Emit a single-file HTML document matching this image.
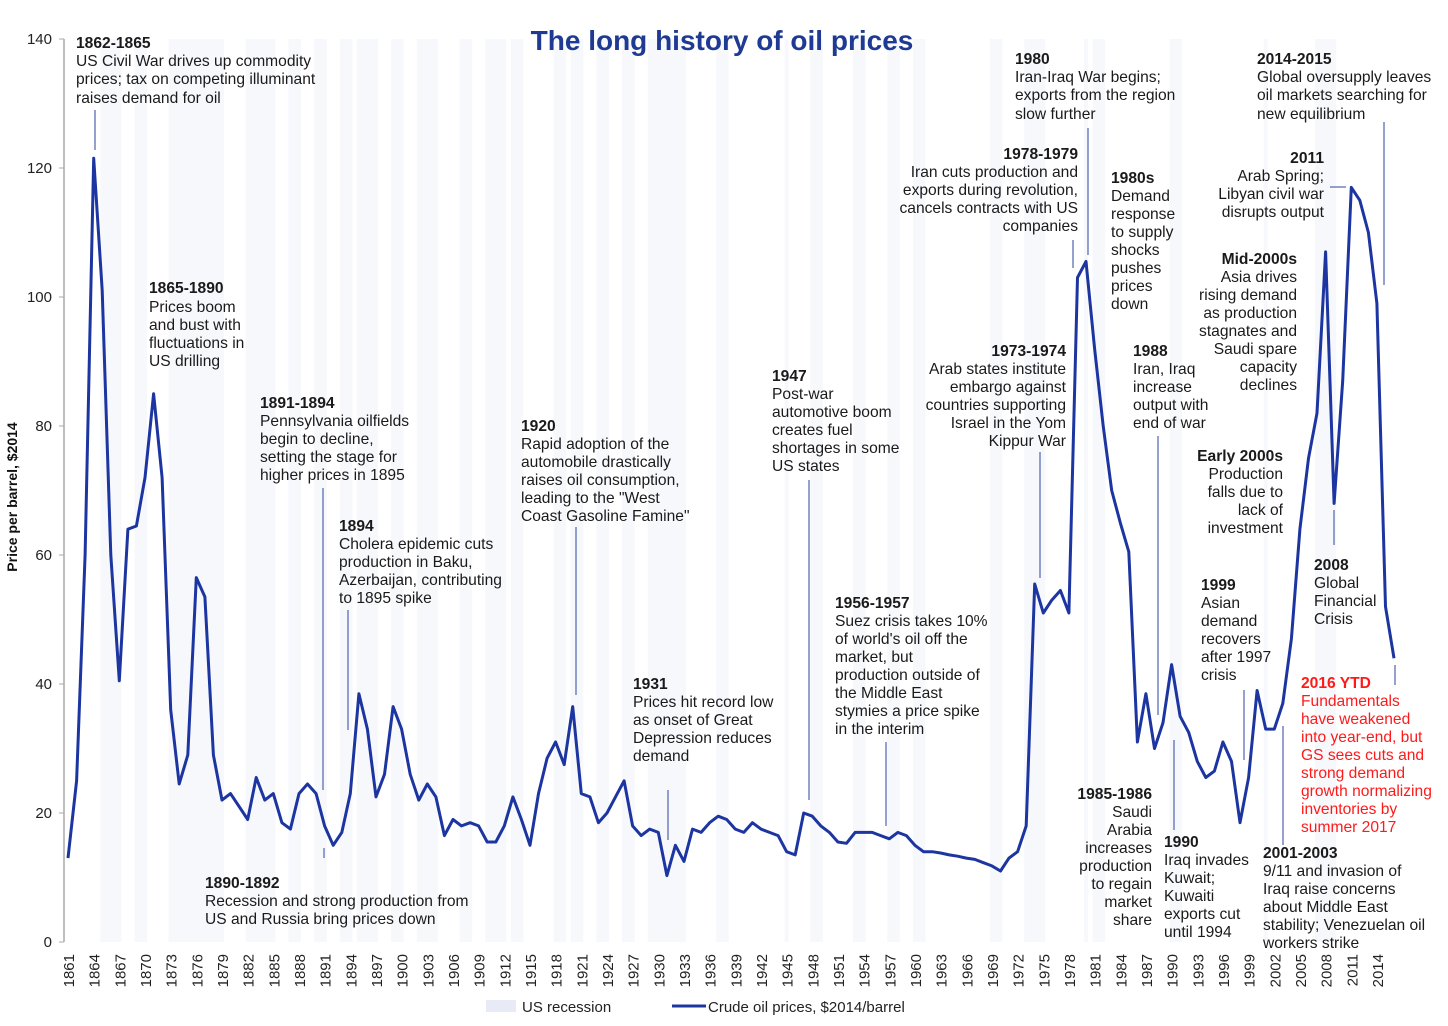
<!DOCTYPE html>
<html><head><meta charset="utf-8">
<style>
html,body{margin:0;padding:0;background:#fff;}
svg{display:block;font-family:"Liberation Sans",Arial,sans-serif;}
.a{font-size:15.6px;fill:#1a1a1a;}
.b{font-weight:bold;}
.r{fill:#ff1a1a;}
.ax{font-size:15px;fill:#222;}
.ln{stroke:#5c6fb5;stroke-width:1.3;}
</style></head>
<body>
<svg id="chart" width="1448" height="1026" viewBox="0 0 1448 1026">
<g id="recessions"></g>
<text x="722" y="50" text-anchor="middle" font-size="28" font-weight="bold" fill="#1f3a93">The long history of oil prices</text>
<text transform="translate(17,497) rotate(-90)" text-anchor="middle" font-size="14" font-weight="bold" fill="#111">Price per barrel, $2014</text>
<line x1="64" y1="39" x2="64" y2="942" stroke="#aaa" stroke-width="1.5"/>
<g id="yticks"></g>
<g id="xticks"></g>
<path id="priceLine" fill="none" stroke="#1c35a0" stroke-width="3" stroke-linejoin="round"/>
<g>
<line class="ln" x1="95" y1="110" x2="95" y2="150"/>
<line class="ln" x1="323" y1="488" x2="323" y2="790"/>
<line class="ln" x1="348" y1="610" x2="348" y2="730"/>
<line class="ln" x1="324" y1="848" x2="324" y2="858"/>
<line class="ln" x1="576" y1="527" x2="576" y2="695"/>
<line class="ln" x1="668" y1="790" x2="668" y2="840"/>
<line class="ln" x1="809" y1="480" x2="809" y2="800"/>
<line class="ln" x1="886" y1="742" x2="886" y2="826"/>
<line class="ln" x1="1040" y1="452" x2="1040" y2="578"/>
<line class="ln" x1="1073" y1="240" x2="1073" y2="268"/>
<line class="ln" x1="1088" y1="128" x2="1088" y2="255"/>
<line class="ln" x1="1158" y1="436" x2="1158" y2="715"/>
<line class="ln" x1="1174" y1="740" x2="1174" y2="830"/>
<line class="ln" x1="1330" y1="187" x2="1346" y2="187"/>
<line class="ln" x1="1244" y1="690" x2="1244" y2="760"/>
<line class="ln" x1="1283" y1="726" x2="1283" y2="845"/>
<line class="ln" x1="1334" y1="510" x2="1334" y2="545"/>
<line class="ln" x1="1384" y1="122" x2="1384" y2="285"/>
<line class="ln" x1="1395" y1="665" x2="1395" y2="685"/>
</g>
<g>
<text class="a"><tspan class="b" x="76" y="48">1862-1865</tspan><tspan x="76" y="66">US Civil War drives up commodity</tspan><tspan x="76" y="84">prices; tax on competing illuminant</tspan><tspan x="76" y="103">raises demand for oil</tspan></text>
<text class="a"><tspan class="b" x="149" y="293">1865-1890</tspan><tspan x="149" y="312">Prices boom</tspan><tspan x="149" y="330">and bust with</tspan><tspan x="149" y="348">fluctuations in</tspan><tspan x="149" y="366">US drilling</tspan></text>
<text class="a"><tspan class="b" x="260" y="408">1891-1894</tspan><tspan x="260" y="426">Pennsylvania oilfields</tspan><tspan x="260" y="444">begin to decline,</tspan><tspan x="260" y="462">setting the stage for</tspan><tspan x="260" y="480">higher prices in 1895</tspan></text>
<text class="a"><tspan class="b" x="339" y="531">1894</tspan><tspan x="339" y="549">Cholera epidemic cuts</tspan><tspan x="339" y="567">production in Baku,</tspan><tspan x="339" y="585">Azerbaijan, contributing</tspan><tspan x="339" y="603">to 1895 spike</tspan></text>
<text class="a"><tspan class="b" x="205" y="888">1890-1892</tspan><tspan x="205" y="906">Recession and strong production from</tspan><tspan x="205" y="924">US and Russia bring prices down</tspan></text>
<text class="a"><tspan class="b" x="521" y="431">1920</tspan><tspan x="521" y="449">Rapid adoption of the</tspan><tspan x="521" y="467">automobile drastically</tspan><tspan x="521" y="485">raises oil consumption,</tspan><tspan x="521" y="503">leading to the "West</tspan><tspan x="521" y="521">Coast Gasoline Famine"</tspan></text>
<text class="a"><tspan class="b" x="633" y="689">1931</tspan><tspan x="633" y="707">Prices hit record low</tspan><tspan x="633" y="725">as onset of Great</tspan><tspan x="633" y="743">Depression reduces</tspan><tspan x="633" y="761">demand</tspan></text>
<text class="a"><tspan class="b" x="772" y="381">1947</tspan><tspan x="772" y="399">Post-war</tspan><tspan x="772" y="417">automotive boom</tspan><tspan x="772" y="435">creates fuel</tspan><tspan x="772" y="453">shortages in some</tspan><tspan x="772" y="471">US states</tspan></text>
<text class="a"><tspan class="b" x="835" y="608">1956-1957</tspan><tspan x="835" y="626">Suez crisis takes 10%</tspan><tspan x="835" y="644">of world's oil off the</tspan><tspan x="835" y="662">market, but</tspan><tspan x="835" y="680">production outside of</tspan><tspan x="835" y="698">the Middle East</tspan><tspan x="835" y="716">stymies a price spike</tspan><tspan x="835" y="734">in the interim</tspan></text>
<text class="a" text-anchor="end"><tspan class="b" x="1066" y="356">1973-1974</tspan><tspan x="1066" y="374">Arab states institute</tspan><tspan x="1066" y="392">embargo against</tspan><tspan x="1066" y="410">countries supporting</tspan><tspan x="1066" y="428">Israel in the Yom</tspan><tspan x="1066" y="446">Kippur War</tspan></text>
<text class="a" text-anchor="end"><tspan class="b" x="1078" y="159">1978-1979</tspan><tspan x="1078" y="177">Iran cuts production and</tspan><tspan x="1078" y="195">exports during revolution,</tspan><tspan x="1078" y="213">cancels contracts with US</tspan><tspan x="1078" y="231">companies</tspan></text>
<text class="a"><tspan class="b" x="1015" y="64">1980</tspan><tspan x="1015" y="82">Iran-Iraq War begins;</tspan><tspan x="1015" y="100">exports from the region</tspan><tspan x="1015" y="119">slow further</tspan></text>
<text class="a"><tspan class="b" x="1111" y="183">1980s</tspan><tspan x="1111" y="201">Demand</tspan><tspan x="1111" y="219">response</tspan><tspan x="1111" y="237">to supply</tspan><tspan x="1111" y="255">shocks</tspan><tspan x="1111" y="273">pushes</tspan><tspan x="1111" y="291">prices</tspan><tspan x="1111" y="309">down</tspan></text>
<text class="a"><tspan class="b" x="1133" y="356">1988</tspan><tspan x="1133" y="374">Iran, Iraq</tspan><tspan x="1133" y="392">increase</tspan><tspan x="1133" y="410">output with</tspan><tspan x="1133" y="428">end of war</tspan></text>
<text class="a" text-anchor="end"><tspan class="b" x="1152" y="799">1985-1986</tspan><tspan x="1152" y="817">Saudi</tspan><tspan x="1152" y="835">Arabia</tspan><tspan x="1152" y="853">increases</tspan><tspan x="1152" y="871">production</tspan><tspan x="1152" y="889">to regain</tspan><tspan x="1152" y="907">market</tspan><tspan x="1152" y="925">share</tspan></text>
<text class="a"><tspan class="b" x="1164" y="847">1990</tspan><tspan x="1164" y="865">Iraq invades</tspan><tspan x="1164" y="883">Kuwait;</tspan><tspan x="1164" y="901">Kuwaiti</tspan><tspan x="1164" y="919">exports cut</tspan><tspan x="1164" y="937">until 1994</tspan></text>
<text class="a" text-anchor="end"><tspan class="b" x="1324" y="163">2011</tspan><tspan x="1324" y="181">Arab Spring;</tspan><tspan x="1324" y="199">Libyan civil war</tspan><tspan x="1324" y="217">disrupts output</tspan></text>
<text class="a" text-anchor="end"><tspan class="b" x="1297" y="264">Mid-2000s</tspan><tspan x="1297" y="282">Asia drives</tspan><tspan x="1297" y="300">rising demand</tspan><tspan x="1297" y="318">as production</tspan><tspan x="1297" y="336">stagnates and</tspan><tspan x="1297" y="354">Saudi spare</tspan><tspan x="1297" y="372">capacity</tspan><tspan x="1297" y="390">declines</tspan></text>
<text class="a" text-anchor="end"><tspan class="b" x="1283" y="461">Early 2000s</tspan><tspan x="1283" y="479">Production</tspan><tspan x="1283" y="497">falls due to</tspan><tspan x="1283" y="515">lack of</tspan><tspan x="1283" y="533">investment</tspan></text>
<text class="a"><tspan class="b" x="1201" y="590">1999</tspan><tspan x="1201" y="608">Asian</tspan><tspan x="1201" y="626">demand</tspan><tspan x="1201" y="644">recovers</tspan><tspan x="1201" y="662">after 1997</tspan><tspan x="1201" y="680">crisis</tspan></text>
<text class="a"><tspan class="b" x="1263" y="858">2001-2003</tspan><tspan x="1263" y="876">9/11 and invasion of</tspan><tspan x="1263" y="894">Iraq raise concerns</tspan><tspan x="1263" y="912">about Middle East</tspan><tspan x="1263" y="930">stability; Venezuelan oil</tspan><tspan x="1263" y="948">workers strike</tspan></text>
<text class="a"><tspan class="b" x="1314" y="570">2008</tspan><tspan x="1314" y="588">Global</tspan><tspan x="1314" y="606">Financial</tspan><tspan x="1314" y="624">Crisis</tspan></text>
<text class="a"><tspan class="b" x="1257" y="64">2014-2015</tspan><tspan x="1257" y="82">Global oversupply leaves</tspan><tspan x="1257" y="100">oil markets searching for</tspan><tspan x="1257" y="119">new equilibrium</tspan></text>
<text class="a r"><tspan class="b" x="1301" y="688">2016 YTD</tspan><tspan x="1301" y="706">Fundamentals</tspan><tspan x="1301" y="724">have weakened</tspan><tspan x="1301" y="742">into year-end, but</tspan><tspan x="1301" y="760">GS sees cuts and</tspan><tspan x="1301" y="778">strong demand</tspan><tspan x="1301" y="796">growth normalizing</tspan><tspan x="1301" y="814">inventories by</tspan><tspan x="1301" y="832">summer 2017</tspan></text>
</g>
<g>
<rect x="486" y="1000" width="30" height="12" fill="#e8ebf5"/>
<text class="ax" x="522" y="1012" font-size="17">US recession</text>
<line x1="672" y1="1006" x2="706" y2="1006" stroke="#1c35a0" stroke-width="3"/>
<text class="ax" x="708" y="1012" font-size="17">Crude oil prices, $2014/barrel</text>
</g>
</svg>
<script>
const years=[];for(let y=1861;y<=2016;y++)years.push(y);
const prices=[13,25,60,121.5,101,60,40.5,64,64.5,72,85,72,36,24.5,29,56.5,53.5,29,22,23,21,19,25.5,22,23,18.5,17.5,23,24.5,23,18,15,17,23,38.5,33,22.5,26,36.5,33,26,22,24.5,22.5,16.5,19,18,18.5,18,15.5,15.5,18,22.5,19,15,23,28.5,31,27.5,36.5,23,22.5,18.5,20,22.5,25,18,16.5,17.5,17,10.3,15,12.5,17.5,17,18.5,19.5,19,17.5,17,18.5,17.5,17,16.5,14,13.5,20,19.5,18,17,15.5,15.3,17,17,17,16.5,16,17,16.5,15,14,14,13.8,13.5,13.3,13,12.8,12.3,11.8,11,13,14,18,55.5,51,53,54.5,51,103,105.5,92,80,70,65,60.5,31,38.5,30,34,43,35,32.5,28,25.5,26.5,31,28,18.5,25.5,39,33,33,37,47,64,75,82,107,68,87,117,115,110,99,52,44];
const recStarts=[1865,1869,1873,1882,1887,1890,1893,1895,1899,1902,1907,1910,1913,1918,1920,1923,1926,1929,1937,1945,1948,1953,1957,1960,1969,1973,1980,1981,1990,2001,2007];
const recEnds=[1867,1870,1879,1885,1888,1891,1894,1897,1900,1904,1908,1912,1914,1919,1921,1924,1927,1933,1938,1945,1949,1954,1958,1961,1970,1975,1980,1982,1991,2001,2009];
const yTicks=[0,20,40,60,80,100,120,140];
const NS="http://www.w3.org/2000/svg";
const X=y=>68+(y-1861)*8.555;
const Y=v=>942-v*6.45;
const rg=document.getElementById('recessions');
recStarts.forEach((s,i)=>{const r=document.createElementNS(NS,'rect');


r.setAttribute('x',X(s)-2);r.setAttribute('y',Y(140));
r.setAttribute('width',Math.max(4,X(recEnds[i])-X(s)+4));r.setAttribute('height',Y(0)-Y(140));
r.setAttribute('fill','#f7f8fc');rg.appendChild(r);});
const yg=document.getElementById('yticks');
yTicks.forEach(v=>{const t=document.createElementNS(NS,'text');


t.setAttribute('x',52);t.setAttribute('y',Y(v)+5);t.setAttribute('text-anchor','end');t.setAttribute('class','ax');t.textContent=v;yg.appendChild(t);
const l=document.createElementNS(NS,'line');


l.setAttribute('x1',59);l.setAttribute('x2',64);l.setAttribute('y1',Y(v));l.setAttribute('y2',Y(v));l.setAttribute('stroke','#aaa');yg.appendChild(l);});
const xg=document.getElementById('xticks');
for(let y=1861;y<=2014;y+=3){const t=document.createElementNS(NS,'text');


t.setAttribute('transform',`translate(${X(y)+6},954) rotate(-90)`);t.setAttribute('text-anchor','end');t.setAttribute('class','ax');t.textContent=y;xg.appendChild(t);}
let d='';years.forEach((y,i)=>{d+=(i?'L':'M')+X(y).toFixed(1)+','+Y(prices[i]).toFixed(1);});
document.getElementById('priceLine').setAttribute('d',d);
</script>
</body></html>
